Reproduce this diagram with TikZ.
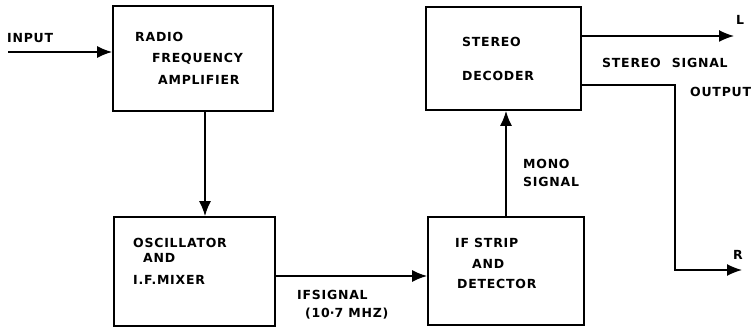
\documentclass[tikz,border=0pt]{standalone}
\usepackage{fontspec}
\usetikzlibrary{arrows.meta}
\newfontfamily\hand[LetterSpace=6]{DejaVu Sans}
\begin{document}
\begin{tikzpicture}[x=1pt,y=-1pt,
  blk/.style={draw,line width=1.8pt},
  lbl/.style={anchor=west,inner sep=0pt,font=\hand\bfseries\fontsize{12.5}{14}\selectfont},
  conn/.style={line width=1.5pt},
  arr/.style={conn,-{Latex[length=15pt,width=12pt]}}]
\useasboundingbox (0,0) rectangle (751,328);
% boxes
\node[blk,minimum width=160pt,minimum height=105pt,inner sep=0pt] (rf) at (193,58.5) {};
\node[blk,minimum width=161pt,minimum height=109pt,inner sep=0pt] (osc) at (194.5,271.5) {};
\node[blk,minimum width=156pt,minimum height=108pt,inner sep=0pt] (ifs) at (506,271) {};
\node[blk,minimum width=155pt,minimum height=103pt,inner sep=0pt] (dec) at (503.5,58.5) {};
% texts
\node[lbl] (t1) at (135,37) {RADIO};
\node[lbl] (t2) at (152,59) {FREQUENCY};
\node[lbl] (t3) at (158,80) {AMPLIFIER};
\node[lbl] (t4) at (133,243) {OSCILLATOR};
\node[lbl] (t5) at (143,258) {AND};
\node[lbl] (t6) at (133,280) {I.F.MIXER};
\node[lbl] (t7) at (455,243) {IF STRIP};
\node[lbl] (t8) at (472,264) {AND};
\node[lbl] (t9) at (457,284) {DETECTOR};
\node[lbl] (t10) at (462,42) {STEREO};
\node[lbl] (t11) at (462,76) {DECODER};
\node[lbl] (in) at (7,38) {INPUT};
\node[lbl] (ifl) at (297,295) {IFSIGNAL};
\node[lbl] (ifm) at (305,314) {(10{\fontspec{DejaVu Sans}·}7 MHZ)};
\node[lbl] (mono) at (523,164) {MONO};
\node[lbl] (monos) at (523,182) {SIGNAL};
\node[lbl] (sso) at (602,63) {STEREO\hspace{6pt} SIGNAL};
\node[lbl] (out) at (690,92) {OUTPUT};
\node[lbl] (L) at (736,20) {L};
\node[lbl] (R) at (733,255) {R};
% connectors
\coordinate (inS) at (8,52);
\coordinate (Lend) at (734,36);
\coordinate (Rturn) at (675,85);
\coordinate (Rend) at (742,270);
\draw[arr] (inS) -- (inS -| rf.west);
\draw[arr] (rf.south -| 205,0) -- (osc.north -| 205,0);
\draw[arr] (osc.east |- 0,276) -- (ifs.west |- 0,276);
\draw[arr] (ifs.north -| 506,0) -- (dec.south -| 506,0);
\draw[arr] (dec.east |- Lend) -- (Lend);
\draw[arr] (dec.east |- Rturn) -- (Rturn) -- (Rturn |- Rend) -- (Rend);
\end{tikzpicture}
\end{document}
